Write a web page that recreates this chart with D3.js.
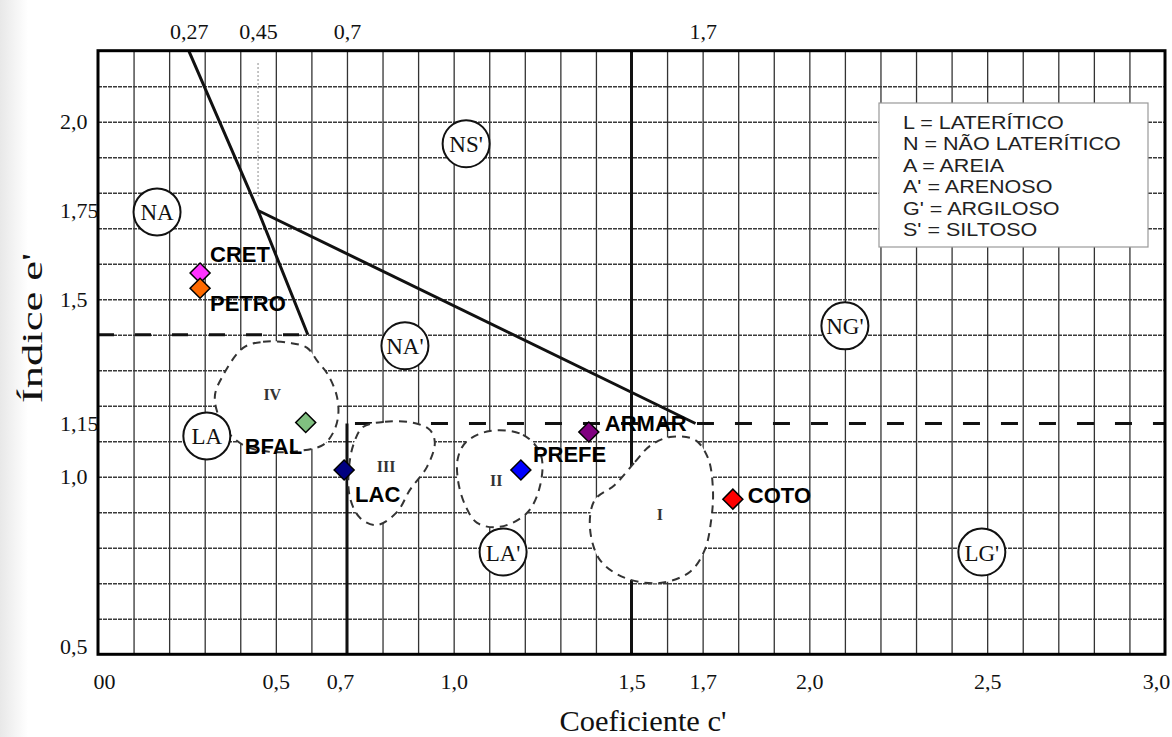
<!DOCTYPE html>
<html>
<head>
<meta charset="utf-8">
<script src="https://cdnjs.cloudflare.com/ajax/libs/d3/7.8.5/d3.min.js"></script>
<style>
  html, body { margin: 0; padding: 0; background: #fff; }
  svg { display: block; }
</style>
</head>
<body>
<svg id="chart" width="1172" height="737"></svg>
<script>
// ---------- DATA ----------
const bottomTicks = [0, 0.5, 0.7, 1.0, 1.5, 1.7, 2.0, 2.5, 3.0];
const bottomTickLabels = ["00", "0,5", "0,7", "1,0", "1,5", "1,7", "2,0", "2,5", "3,0"];
const leftTicks = [0.5, 1.0, 1.15, 1.5, 1.75, 2.0];
const leftTickLabels = ["0,5", "1,0", "1,15", "1,5", "1,75", "2,0"];
const topTicks = [0.255, 0.45, 0.7, 1.7];
const topTickLabels = ["0,27", "0,45", "0,7", "1,7"];

const samples = ["CRET", "PETRO", "BFAL", "LAC", "PREFE", "ARMAR", "COTO"];
const sampleC = [0.287, 0.287, 0.584, 0.692, 1.189, 1.380, 1.785];
const sampleE = [1.574, 1.531, 1.153, 1.019, 1.019, 1.126, 0.937];
const sampleColors = ["#ff33ff", "#ff6a00", "#80c080", "#000080", "#0000ff", "#800080", "#ff0000"];

const zoneNames = ["NA", "NS'", "NA'", "NG'", "LA", "LA'", "LG'"];
const zoneC = [0.166, 1.035, 0.863, 2.100, 0.306, 1.139, 2.485];
const zoneE = [1.746, 1.938, 1.369, 1.425, 1.115, 0.788, 0.788];

const groupNames = ["IV", "III", "II", "I"];
const groupLabelC = [0.49, 0.81, 1.12, 1.58];
const groupLabelE = [1.232, 1.03, 0.99, 0.895];
const groupIV = [[0.408,1.363],[0.464,1.380],[0.540,1.377],[0.588,1.363],[0.618,1.324],[0.647,1.287],[0.672,1.225],[0.675,1.169],[0.661,1.124],[0.633,1.090],[0.568,1.073],[0.484,1.070],[0.413,1.087],[0.365,1.126],[0.335,1.183],[0.329,1.231],[0.349,1.281]];
const groupIII = [[0.745,1.140],[0.807,1.155],[0.886,1.152],[0.933,1.132],[0.947,1.096],[0.925,1.028],[0.877,0.963],[0.841,0.901],[0.784,0.864],[0.737,0.884],[0.708,0.943],[0.706,1.028],[0.720,1.096]];
const groupII = [[1.102,1.129],[1.195,1.118],[1.245,1.062],[1.242,0.971],[1.206,0.898],[1.130,0.859],[1.066,0.870],[1.032,0.921],[1.012,0.991],[1.012,1.053],[1.035,1.098]];
const groupI = [[1.453,0.977],[1.510,1.042],[1.552,1.087],[1.608,1.112],[1.678,1.104],[1.715,1.053],[1.729,0.963],[1.724,0.878],[1.706,0.794],[1.664,0.732],[1.580,0.701],[1.482,0.715],[1.411,0.766],[1.383,0.859],[1.397,0.935]];

const steepLine = [[0.255, 2.2], [0.45, 1.75], [0.59, 1.40]];
const slopeLine = [[0.45, 1.75], [1.68, 1.15]];
const dashLow = [[0, 1.40], [0.59, 1.40]];
const dashHigh = [[0.7, 1.15], [3.0, 1.15]];
const vLine07 = [[0.7, 1.15], [0.7, 0.5]];
const vLine15 = [[1.5, 2.2], [1.5, 0.5]];
const dotted045 = [[0.45, 2.165], [0.45, 1.79]];

const legendLines = ["L = LATERÍTICO", "N = NÃO LATERÍTICO", "A = AREIA", "A' = ARENOSO", "G' = ARGILOSO", "S' = SILTOSO"];

// ---------- LAYOUT ----------
const svg = d3.select("#chart");
const L = 98, R = 1165, T = 50.7, B = 654.3;
const x = d3.scaleLinear().domain([0, 3]).range([L, R]);
const y = d3.scaleLinear().domain([0.5, 2.2]).range([B, T]);
const serif = "'Liberation Serif', 'Times New Roman', serif";
const sans = "'Liberation Sans', Arial, sans-serif";

// scan edge shading at left
const grad = svg.append("defs").append("linearGradient").attr("id", "edge");
grad.append("stop").attr("offset", "0%").attr("stop-color", "#e8e8e8");
grad.append("stop").attr("offset", "100%").attr("stop-color", "#ffffff");
svg.append("rect").attr("x", 0).attr("y", 0).attr("width", 28).attr("height", 737).attr("fill", "url(#edge)");

// grid
const gridX = svg.append("g").attr("transform", `translate(0,${B})`)
  .call(d3.axisBottom(x).tickValues(d3.range(1, 30).map(i => i / 10)).tickSize(-(B - T)).tickFormat(""));
gridX.select(".domain").remove();
gridX.selectAll("line").attr("stroke", "#333").attr("stroke-width", 1.3);

const gridY = svg.append("g").attr("transform", `translate(${L},0)`)
  .call(d3.axisLeft(y).tickValues(d3.range(6, 22).map(i => i / 10)).tickSize(-(R - L)).tickFormat(""));
gridY.select(".domain").remove();
gridY.selectAll("line").attr("stroke", "#3a3a3a").attr("stroke-width", 1.4).attr("stroke-dasharray", "4,1");

const line = d3.line().x(d => x(d[0])).y(d => y(d[1]));

// boundary lines
svg.append("path").attr("d", line(steepLine)).attr("fill", "none").attr("stroke", "#111").attr("stroke-width", 3);
svg.append("path").attr("d", line(slopeLine)).attr("fill", "none").attr("stroke", "#111").attr("stroke-width", 3);
svg.append("path").attr("d", line(vLine07)).attr("fill", "none").attr("stroke", "#111").attr("stroke-width", 3);
svg.append("path").attr("d", line(vLine15)).attr("fill", "none").attr("stroke", "#111").attr("stroke-width", 3);
svg.append("path").attr("d", line(dashLow)).attr("fill", "none").attr("stroke", "#111").attr("stroke-width", 3.2).attr("stroke-dasharray", "16,21");
svg.append("path").attr("d", line(dashHigh)).attr("fill", "none").attr("stroke", "#111").attr("stroke-width", 3.2).attr("stroke-dasharray", "17,21").attr("stroke-dashoffset", -8);
svg.append("path").attr("d", line(dotted045)).attr("fill", "none").attr("stroke", "#888").attr("stroke-width", 1.3).attr("stroke-dasharray", "1.5,2.5");

// group blobs
const blob = d3.line().x(d => x(d[0])).y(d => y(d[1])).curve(d3.curveCatmullRomClosed.alpha(0.5));
[groupIV, groupIII, groupII, groupI].forEach(g => {
  svg.append("path").attr("d", blob(g)).attr("fill", "#fff").attr("stroke", "#333")
    .attr("stroke-width", 2).attr("stroke-dasharray", "8,6");
});
svg.selectAll("text.grp").data(groupNames).join("text").attr("class", "grp")
  .attr("x", (d, i) => x(groupLabelC[i])).attr("y", (d, i) => y(groupLabelE[i]))
  .attr("text-anchor", "middle").attr("dominant-baseline", "central")
  .attr("font-family", serif).attr("font-size", 16).attr("font-weight", "bold").attr("fill", "#333").text(d => d);

// zone circles
const zones = svg.selectAll("g.zone").data(zoneNames).join("g").attr("class", "zone")
  .attr("transform", (d, i) => `translate(${x(zoneC[i])},${y(zoneE[i])})`);
zones.append("circle").attr("r", 23.5).attr("fill", "#fff").attr("stroke", "#111").attr("stroke-width", 2);
zones.append("text").attr("text-anchor", "middle").attr("dominant-baseline", "central").attr("dy", 1)
  .attr("font-family", serif).attr("font-size", 23).attr("fill", "#111").text(d => d);

// frame
svg.append("rect").attr("x", L).attr("y", T).attr("width", R - L).attr("height", B - T)
  .attr("fill", "none").attr("stroke", "#000").attr("stroke-width", 3);

// legend
const lg = svg.append("g");
lg.append("rect").attr("x", 879).attr("y", 103).attr("width", 269).attr("height", 144)
  .attr("fill", "#fff").attr("stroke", "#999").attr("stroke-width", 1.2);
lg.selectAll("text").data(legendLines).join("text")
  .attr("transform", (d, i) => `translate(903,${129 + i * 21.4}) scale(1.17,1)`)
  .attr("font-family", sans).attr("font-size", 18.4).attr("fill", "#222").text(d => d);

// sample points
const labelOffset = { CRET: [10, -11], PETRO: [10, 23], BFAL: [-61, 32], LAC: [11, 32], PREFE: [12, -8], ARMAR: [16, -1], COTO: [15, 4] };
const sym = d3.symbol().type(d3.symbolSquare).size(200);
svg.selectAll("path.pt").data(samples).join("path").attr("class", "pt")
  .attr("d", sym)
  .attr("transform", (d, i) => `translate(${x(sampleC[i])},${y(sampleE[i])}) rotate(45)`)
  .attr("fill", (d, i) => sampleColors[i]).attr("stroke", "#000").attr("stroke-width", 1.5);
svg.selectAll("text.pl").data(samples).join("text").attr("class", "pl")
  .attr("x", (d, i) => x(sampleC[i]) + labelOffset[d][0])
  .attr("y", (d, i) => y(sampleE[i]) + labelOffset[d][1])
  .attr("font-family", sans).attr("font-weight", "bold").attr("font-size", 22).attr("fill", "#000").text(d => d);

// axes tick labels
const axB = svg.append("g").attr("transform", `translate(0,${B})`)
  .call(d3.axisBottom(x).tickValues(bottomTicks).tickSize(0).tickPadding(19).tickFormat((d, i) => bottomTickLabels[i]));
axB.select(".domain").remove();
axB.selectAll("text").attr("font-family", serif).attr("font-size", 22).attr("fill", "#111")
  .attr("dx", (d, i) => i === 0 ? 6 : (i === bottomTicks.length - 1 ? -9 : (i === 2 ? -7 : 0)));

const axT = svg.append("g").attr("transform", `translate(0,${T})`)
  .call(d3.axisTop(x).tickValues(topTicks).tickSize(0).tickPadding(12).tickFormat((d, i) => topTickLabels[i]));
axT.select(".domain").remove();
axT.selectAll("text").attr("font-family", serif).attr("font-size", 22).attr("fill", "#111");

const axL = svg.append("g").attr("transform", `translate(60,0)`)
  .call(d3.axisRight(y).tickValues(leftTicks).tickSize(0).tickPadding(0).tickFormat((d, i) => leftTickLabels[i]));
axL.select(".domain").remove();
axL.selectAll("text").attr("font-family", serif).attr("font-size", 22).attr("fill", "#111")
  .attr("dy", (d, i) => i === 0 ? "-0.05em" : "0.32em");

// axis titles
svg.append("text").attr("x", 643).attr("y", 731).attr("text-anchor", "middle")
  .attr("font-family", serif).attr("font-size", 29).attr("fill", "#111")
  .attr("textLength", 167).attr("lengthAdjust", "spacingAndGlyphs").text("Coeficiente c'");
svg.append("text").attr("transform", "translate(42,328) rotate(-90)").attr("text-anchor", "middle")
  .attr("font-family", serif).attr("font-size", 30).attr("fill", "#111")
  .attr("textLength", 150).attr("lengthAdjust", "spacingAndGlyphs").text("Índice e'");
</script>
</body>
</html>
